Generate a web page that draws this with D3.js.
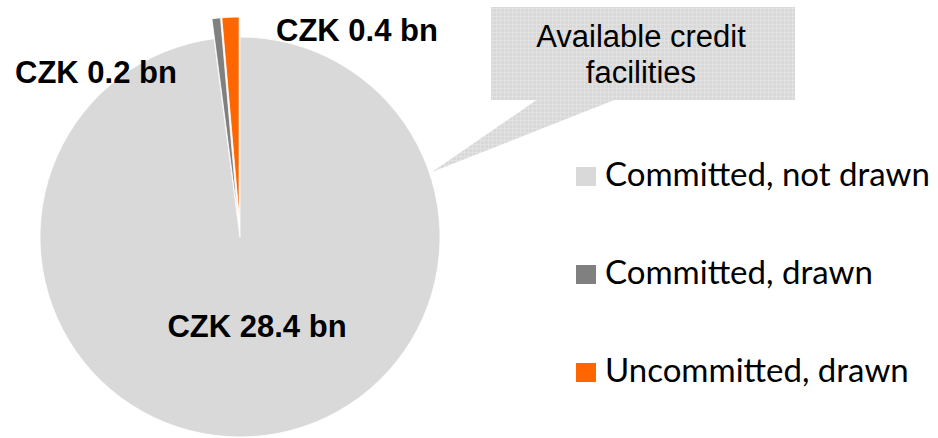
<!DOCTYPE html>
<html><head><meta charset="utf-8">
<script src="https://cdn.jsdelivr.net/npm/d3@7"></script>
<style>body{margin:0;background:#fff}svg{display:block}</style>
</head><body>
<svg id="c" width="938" height="438"></svg>
<script>
const categories = ["Committed, not drawn", "Committed, drawn", "Uncommitted, drawn"];
const values = [28.4, 0.2, 0.4];
const valueLabels = ["CZK 28.4 bn", "CZK 0.2 bn", "CZK 0.4 bn"];
const colors = ["#d9d9d9", "#808080", "#ff6600"];
const explode = [0, 20, 20];

const svg = d3.select("#c");
const defs = svg.append("defs");
const pat = defs.append("pattern").attr("id","dots").attr("width",4).attr("height",4).attr("patternUnits","userSpaceOnUse");
pat.append("rect").attr("width",4).attr("height",4).attr("fill","#d8d8d8");
pat.append("rect").attr("width",4).attr("height",1).attr("fill","#e2e2e2");
pat.append("rect").attr("width",1).attr("height",4).attr("fill","#e2e2e2");

const cx = 240, cy = 237, R = 200;

// callout
const callout = svg.append("g");
callout.append("path")
  .attr("d", "M538,99 L432,172 L617,99 Z")
  .attr("fill", "url(#dots)");
callout.append("rect").attr("x",491).attr("y",7).attr("width",304).attr("height",93).attr("fill","url(#dots)");
const cfont = "Liberation Sans, Arial, sans-serif";
callout.append("text").attr("x",641).attr("y",47).attr("text-anchor","middle")
  .attr("font-family",cfont).attr("font-size",31).attr("fill","#000").text("Available credit");
callout.append("text").attr("x",641).attr("y",83).attr("text-anchor","middle")
  .attr("font-family",cfont).attr("font-size",31).attr("fill","#000").text("facilities");

const pie = d3.pie().sort(null).value(d => d)(values);
const arc = d3.arc().innerRadius(0).outerRadius(R);
const g = svg.append("g").attr("transform", `translate(${cx},${cy})`);
g.selectAll("path").data(pie).join("path")
  .attr("d", arc)
  .attr("fill", (d,i) => colors[i])
  .attr("stroke", "#fff").attr("stroke-width", 0.8)
  .attr("transform", (d,i) => {
    const a = (d.startAngle + d.endAngle)/2;
    return `translate(${Math.sin(a)*explode[i]},${-Math.cos(a)*explode[i]})`;
  });

// data labels
const labelPos = [[257, 337], [96, 83], [357, 41]];
svg.selectAll("text.lbl").data(valueLabels).join("text").attr("class","lbl")
  .attr("x", (d,i) => labelPos[i][0]).attr("y", (d,i) => labelPos[i][1])
  .attr("text-anchor","middle")
  .attr("font-family",cfont).attr("font-weight","bold")
  .attr("font-size",31).attr("fill","#000").text(d => d);

// legend
const lg = svg.append("g");
const ly = d3.scalePoint().domain(categories).range([186, 382]);
categories.forEach((c,i) => {
  lg.append("rect").attr("x",576).attr("y",ly(c)-19).attr("width",20).attr("height",19).attr("fill",colors[i]);
  lg.append("text").attr("x",605).attr("y",ly(c))
    .attr("font-family","Lato, Open Sans, sans-serif").attr("font-size",33).attr("fill","#000").text(c);
});
</script>
</body></html>
